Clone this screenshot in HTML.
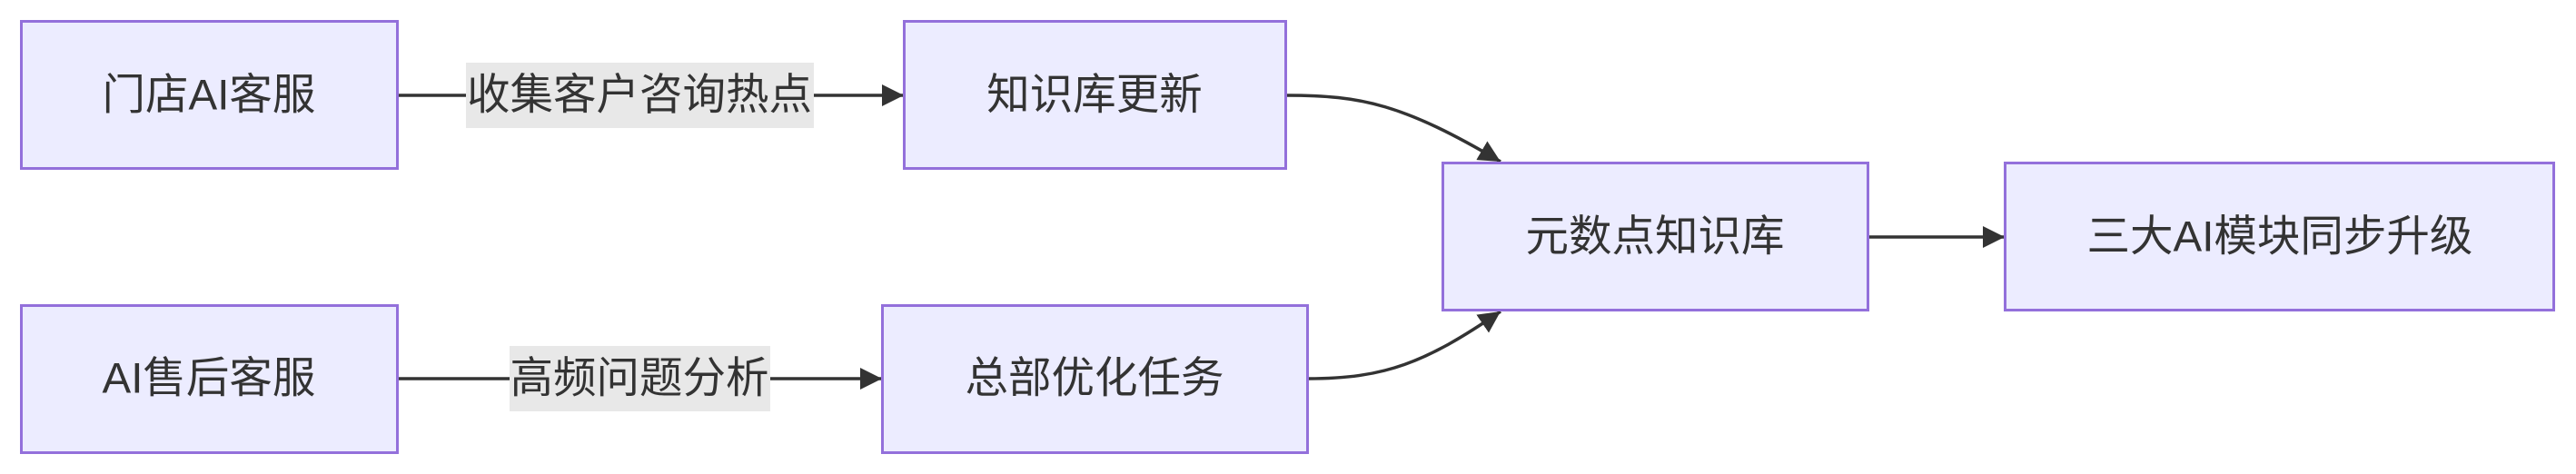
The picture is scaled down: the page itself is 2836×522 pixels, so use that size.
<!DOCTYPE html>
<html><head><meta charset="utf-8"><style>
html,body{margin:0;padding:0;background:#fff;width:2836px;height:522px;overflow:hidden}
svg{display:block}
text{font-family:"Liberation Sans","Noto Sans CJK SC",sans-serif;font-size:47.5px;fill:#333;text-anchor:middle;dominant-baseline:central}
.n{fill:#ECECFF;stroke:#9370DB;stroke-width:3}
.e{fill:none;stroke:#333;stroke-width:3.5}
</style></head><body>
<svg width="2836" height="522" viewBox="0 0 2836 522">
<defs>
<marker id="b" viewBox="0 0 10 10" refX="10" refY="5" markerWidth="24" markerHeight="24" markerUnits="userSpaceOnUse" orient="auto"><path d="M0,0L10,5L0,10z" fill="#333"/></marker></defs>
<path class="e" d="M438,105H995" marker-end="url(#b)"/>
<path class="e" d="M438,417H971" marker-end="url(#b)"/>
<path class="e" d="M1416,105C1500,105 1545,115 1652,178" marker-end="url(#b)"/>
<path class="e" d="M1440,417C1524,417 1569,400 1652,343" marker-end="url(#b)"/>
<path class="e" d="M2057,261H2207" marker-end="url(#b)"/>
<rect x="513" y="69" width="383" height="72" fill="#e8e8e8"/>
<text x="704" y="105">收集客户咨询热点</text>
<rect x="561" y="381" width="287" height="72" fill="#e8e8e8"/>
<text x="704" y="417">高频问题分析</text>
<rect class="n" x="23.5" y="23.5" width="414" height="162"/>
<text x="230" y="105">门店AI客服</text>
<rect class="n" x="995.5" y="23.5" width="420" height="162"/>
<text x="1205" y="105">知识库更新</text>
<rect class="n" x="23.5" y="336.5" width="414" height="162"/>
<text x="230" y="417">AI售后客服</text>
<rect class="n" x="971.5" y="336.5" width="468" height="162"/>
<text x="1205" y="417">总部优化任务</text>
<rect class="n" x="1588.5" y="179.5" width="468" height="162"/>
<text x="1822" y="261">元数点知识库</text>
<rect class="n" x="2207.5" y="179.5" width="604" height="162"/>
<text x="2510" y="261">三大AI模块同步升级</text>
</svg>
</body></html>
